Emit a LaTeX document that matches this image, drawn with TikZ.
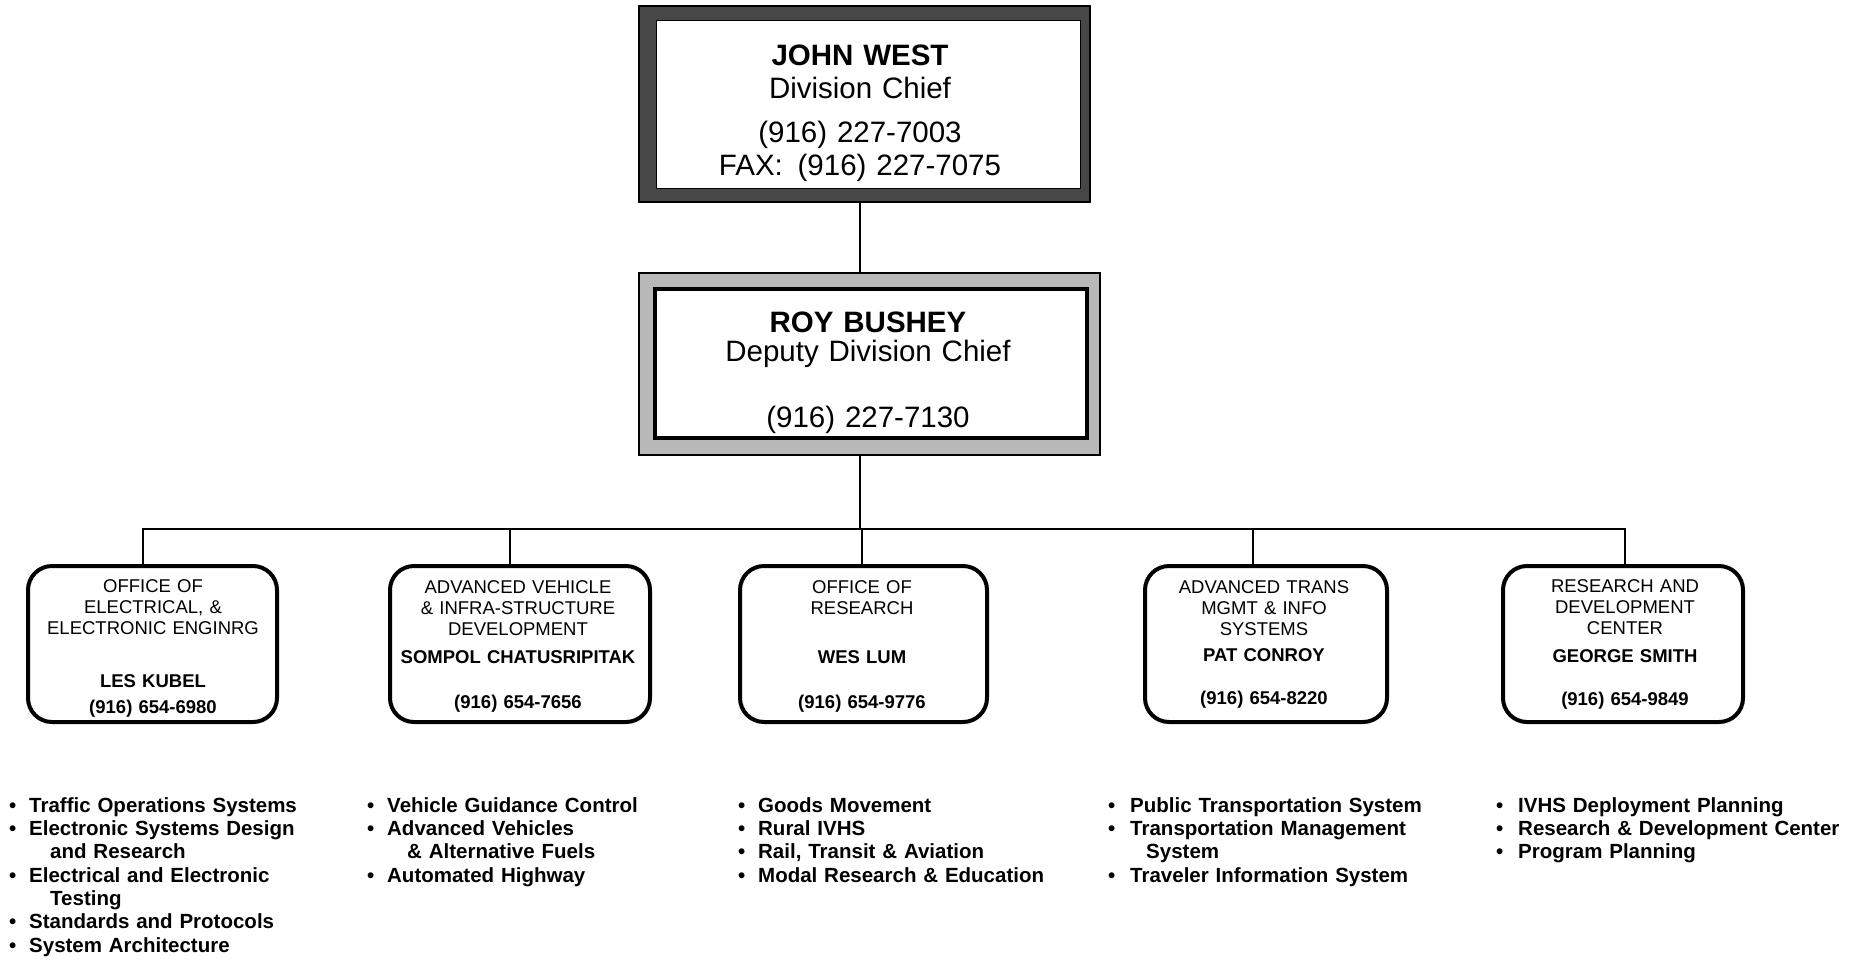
\documentclass[tikz,border=0pt]{standalone}
\usepackage{fontspec}
\setmainfont{Liberation Sans}
\newcommand\bt[1]{\makebox[#1pt][l]{•}}
\tikzset{
  lowbox/.style={draw=black, line width=4pt, rounded corners=24pt, minimum height=156pt, inner sep=0pt},
  boxtxt/.style={anchor=north, align=center, inner sep=0pt, text width=262pt, font=\fontsize{18.5}{21}\selectfont},
  listtxt/.style={anchor=north west, align=left, inner sep=0pt, text width=380pt, font=\bfseries\fontsize{20.5}{23.3}\selectfont},
  conn/.style={line width=2.4pt, line cap=rect},
}
\begin{document}
\begin{tikzpicture}[x=1pt,y=-1pt]
\useasboundingbox (0,0) rectangle (1865,959);
% top box
\node[draw=black, line width=1.5pt, fill=black!72, minimum width=451pt, minimum height=196pt, inner sep=0pt] (john) at (864.5,104) {};
\node[draw=black, line width=1pt, fill=white, minimum width=424pt, minimum height=168pt, inner sep=0pt] (johnin) at (868,104) {};
\node[anchor=north, align=center, inner sep=0pt, text width=440pt, font=\fontsize{29.5}{33}\selectfont] (johnt) at (860,41)
 {\rule{0pt}{24pt}\textbf{JOHN WEST}\\Division Chief\\[11pt](916) 227-7003\\FAX:\enspace(916) 227-7075};
% second box
\node[draw=black, line width=2pt, fill=black!28, minimum width=461pt, minimum height=182pt, inner sep=0pt] (roy) at (869.5,364) {};
\node[draw=black, line width=4pt, fill=white, minimum width=432pt, minimum height=149pt, inner sep=0pt] (royin) at (871,363.5) {};
\node[anchor=north, align=center, inner sep=0pt, text width=440pt, font=\fontsize{29.5}{29}\selectfont] (royt) at (868,308)
 {\rule{0pt}{24pt}\textbf{ROY BUSHEY}\\Deputy Division Chief\\[37pt](916) 227-7130};
% connectors top
\coordinate (cx) at (860,529);
\draw[conn] (cx |- john.south) -- (cx |- roy.north);
\draw[conn] (cx |- roy.south) -- (cx);
% lower boxes
\node[lowbox, minimum width=249pt] (b1) at (152.5,644) {};
\node[lowbox, minimum width=260pt] (b2) at (520,644) {};
\node[lowbox, minimum width=247pt] (b3) at (863.5,644) {};
\node[lowbox, minimum width=242pt] (b4) at (1266,644) {};
\node[lowbox, minimum width=240pt] (b5) at (1623,644) {};
% bar and drops
\coordinate (j1) at (143,529);
\coordinate (j2) at (510,529);
\coordinate (j3) at (862,529);
\coordinate (j4) at (1253,529);
\coordinate (j5) at (1625,529);
\draw[conn] (j1) -- (j5);
\draw[conn] (j1) -- (j1 |- b1.north);
\draw[conn] (j2) -- (j2 |- b2.north);
\draw[conn] (j3) -- (j3 |- b3.north);
\draw[conn] (j4) -- (j4 |- b4.north);
\draw[conn] (j5) -- (j5 |- b5.north);
% box texts
\node[boxtxt] (t1) at (153,576) {\rule{0pt}{16pt}OFFICE OF\\ELECTRICAL, \&\\ELECTRONIC ENGINRG\\[32pt]\textbf{LES KUBEL}\\[5pt]\textbf{(916) 654-6980}};
\node[boxtxt] (t2) at (518,577) {\rule{0pt}{16pt}ADVANCED VEHICLE\\\& INFRA-STRUCTURE\\DEVELOPMENT\\[7pt]\textbf{SOMPOL CHATUSRIPITAK}\\[24pt]\textbf{(916) 654-7656}};
\node[boxtxt] (t3) at (862,577) {\rule{0pt}{16pt}OFFICE OF\\RESEARCH\\[28pt]\textbf{WES LUM}\\[24pt]\textbf{(916) 654-9776}};
\node[boxtxt] (t4) at (1264,577) {\rule{0pt}{16pt}ADVANCED TRANS\\MGMT \& INFO\\SYSTEMS\\[5pt]\textbf{PAT CONROY}\\[22pt]\textbf{(916) 654-8220}};
\node[boxtxt] (t5) at (1625,576) {\rule{0pt}{16pt}RESEARCH AND\\DEVELOPMENT\\CENTER\\[7pt]\textbf{GEORGE SMITH}\\[22pt]\textbf{(916) 654-9849}};
% lists
\node[listtxt] (l1) at (9,795) {\rule{0pt}{17pt}\bt{20}Traffic Operations Systems\\\bt{20}Electronic Systems Design\\\hspace*{41pt}and Research\\\bt{20}Electrical and Electronic\\\hspace*{41pt}Testing\\\bt{20}Standards and Protocols\\\bt{20}System Architecture};
\node[listtxt] (l2) at (367,795) {\rule{0pt}{17pt}\bt{20}Vehicle Guidance Control\\\bt{20}Advanced Vehicles\\\hspace*{40pt}\& Alternative Fuels\\\bt{20}Automated Highway};
\node[listtxt] (l3) at (738,795) {\rule{0pt}{17pt}\bt{20}Goods Movement\\\bt{20}Rural IVHS\\\bt{20}Rail, Transit \& Aviation\\\bt{20}Modal Research \& Education};
\node[listtxt] (l4) at (1108,795) {\rule{0pt}{17pt}\bt{22}Public Transportation System\\\bt{22}Transportation Management\\\hspace*{38pt}System\\\bt{22}Traveler Information System};
\node[listtxt] (l5) at (1496,795) {\rule{0pt}{17pt}\bt{22}IVHS Deployment Planning\\\bt{22}Research \& Development Center\\\bt{22}Program Planning};
\end{tikzpicture}
\end{document}
